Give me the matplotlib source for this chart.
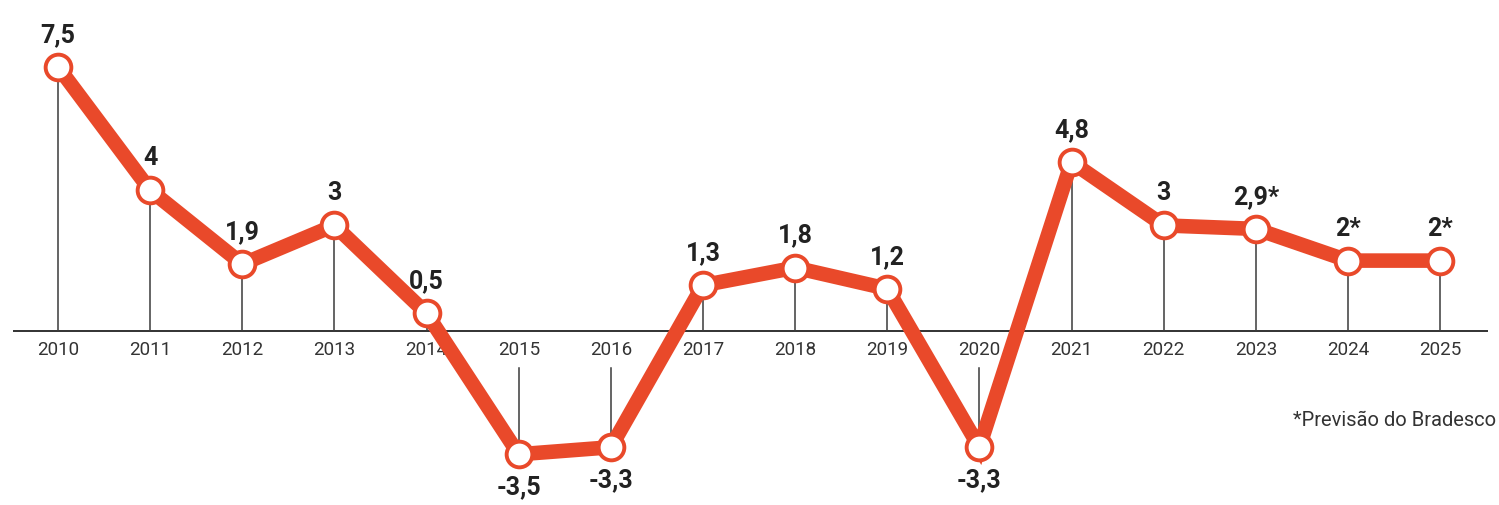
import matplotlib
matplotlib.use("Agg")
import matplotlib.pyplot as plt

years = [2010, 2011, 2012, 2013, 2014, 2015, 2016, 2017, 2018, 2019, 2020, 2021, 2022, 2023, 2024, 2025]
values = [7.5, 4.0, 1.9, 3.0, 0.5, -3.5, -3.3, 1.3, 1.8, 1.2, -3.3, 4.8, 3.0, 2.9, 2.0, 2.0]
labels = ["7,5", "4", "1,9", "3", "0,5", "-3,5", "-3,3", "1,3", "1,8", "1,2", "-3,3", "4,8", "3", "2,9*", "2*", "2*"]
footnote = "*Previsão do Bradesco"

ORANGE = "#E9492A"
DARK = "#222222"
GRAY = "#3a3a3a"

fig = plt.figure(figsize=(14.99, 5.05), dpi=100)
ax = fig.add_axes([0, 0, 1, 1])
ax.set_xlim(2009.37, 2025.64)
ax.set_ylim(-4.94, 9.40)
ax.axis("off")

# baseline
ax.plot([2009.51, 2025.52], [0, 0], color=DARK, lw=1.3, zorder=1, solid_capstyle="butt")

year_y = -0.55
for yr, v in zip(years, values):
    if v >= 0:
        ax.plot([yr, yr], [0, v], color=GRAY, lw=1.1, zorder=1)
    else:
        ax.plot([yr, yr], [-1.05, v], color=GRAY, lw=1.1, zorder=1)
    ax.text(yr, year_y, str(yr), ha="center", va="center", fontsize=13.5,
            family="Roboto", color="#333333", zorder=2)

ax.plot(years, values, color=ORANGE, lw=10.5, zorder=3, solid_joinstyle="miter",
        solid_capstyle="butt")
ax.plot(years, values, linestyle="none", marker="o", markersize=18.5,
        markerfacecolor="white", markeredgecolor=ORANGE, markeredgewidth=2.8, zorder=4)

for yr, v, lab in zip(years, values, labels):
    off = 23 if v >= 0 else -24
    ax.annotate(lab, (yr, v), xytext=(0, off), textcoords="offset points",
                ha="center", va="center", fontsize=18, fontweight="bold",
                family="Roboto", color=DARK, zorder=5)

fig.text(1496 / 1499, 1 - 420 / 505, footnote, ha="right", va="center",
         fontsize=14.5, family="Roboto", color="#333333")

fig.savefig("out.png", dpi=100)
